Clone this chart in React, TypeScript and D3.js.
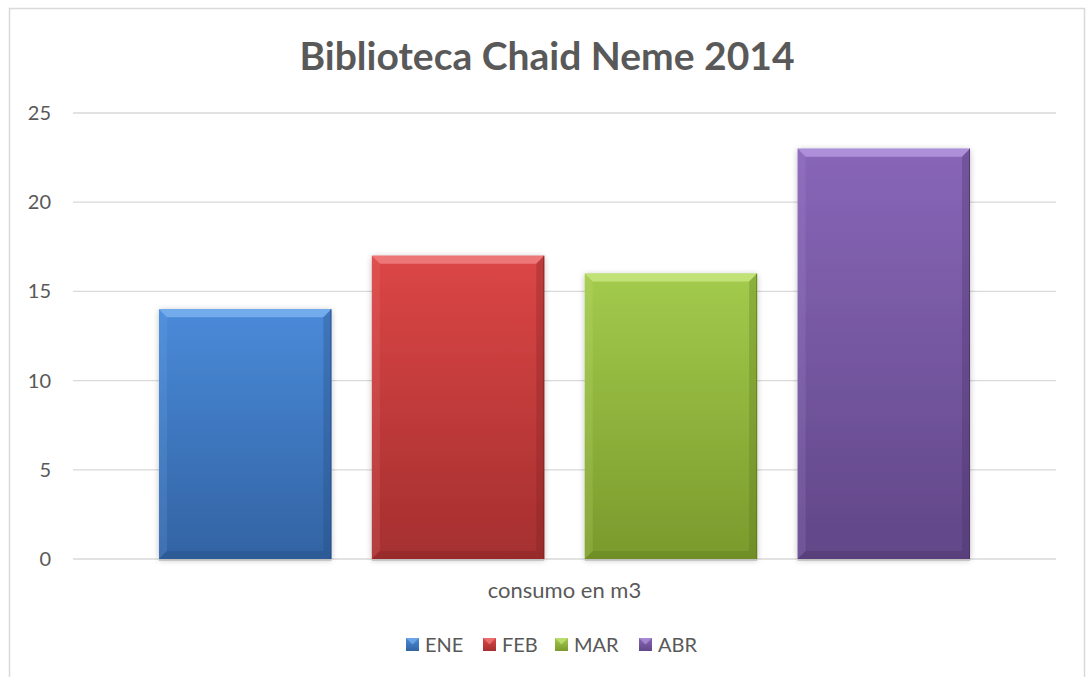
import * as d3 from 'd3';

const categories = ['consumo en m3'];
const seriesNames = ['ENE', 'FEB', 'MAR', 'ABR'];
const seriesValues = [14, 17, 16, 23];
const yTicks = [0, 5, 10, 15, 20, 25];

const palette = [
  { top: '#4a8ad9', bottom: '#3263a3', light: '#7ab2f0', dark: '#23497c' },
  { top: '#dc4646', bottom: '#a52f2f', light: '#f08080', dark: '#7a2020' },
  { top: '#a3cb4c', bottom: '#7a9a2c', light: '#c6e67e', dark: '#5a731c' },
  { top: '#8866b8', bottom: '#614788', light: '#b497df', dark: '#45305f' },
];

const W = 1087;
const H = 677;
const plot = { left: 73, right: 1056, top: 113, bottom: 559 };
const font = 'Lato, Carlito, "Open Sans", sans-serif';

const App = () => {
  const x0 = d3.scaleBand<string>()
    .domain(categories)
    .range([plot.left, plot.right])
    .paddingOuter(0.106)
    .paddingInner(0);

  const x1 = d3.scaleBand<string>()
    .domain(seriesNames)
    .range([0, x0.bandwidth()])
    .paddingInner(0.19);

  const y = d3.scaleLinear().domain([0, 25]).range([plot.bottom, plot.top]);

  const b = 8;
  const legendX = [406, 483, 555, 639];

  return (
    <div style={{ position: 'absolute', left: 0, top: 0 }}>
      <svg width={W} height={H} style={{ display: 'block' }}>
        <defs>
          {palette.map((c, i) => (
            <linearGradient key={i} id={`bar-grad-${i}`} x1="0" y1="0" x2="0" y2="1">
              <stop offset="0%" stopColor={c.top} />
              <stop offset="100%" stopColor={c.bottom} />
            </linearGradient>
          ))}
          <filter id="bar-shadow" x="-10%" y="-10%" width="120%" height="120%">
            <feGaussianBlur in="SourceAlpha" stdDeviation="3" />
            <feOffset dx="0" dy="1" result="blur" />
            <feComponentTransfer>
              <feFuncA type="linear" slope="0.25" />
            </feComponentTransfer>
            <feMerge>
              <feMergeNode />
              <feMergeNode in="SourceGraphic" />
            </feMerge>
          </filter>
        </defs>

        <rect x={0} y={0} width={W} height={H} fill="#ffffff" />
        {/* chart border */}
        <rect x={9.5} y={8.5} width={1075} height={700} fill="none" stroke="#d9d9d9" strokeWidth={1.5} />

        <text
          x={547}
          y={70}
          textAnchor="middle"
          fontFamily={font}
          fontWeight="bold"
          fontSize={39}
          fill="#595959"
        >
          Biblioteca Chaid Neme 2014
        </text>

        {/* gridlines + y labels */}
        {yTicks.map(t => (
          <g key={t}>
            <line
              x1={plot.left}
              x2={plot.right}
              y1={y(t)}
              y2={y(t)}
              stroke="#d9d9d9"
              strokeWidth={1.3}
            />
            <text
              x={51}
              y={y(t) + 7}
              textAnchor="end"
              fontFamily={font}
              fontSize={20}
              fill="#595959"
            >
              {t}
            </text>
          </g>
        ))}

        {/* bars */}
        {categories.map(cat => (
          <g key={cat} transform={`translate(${x0(cat)},0)`}>
            {seriesNames.map((s, i) => {
              const bx = x1(s) || 0;
              const bw = x1.bandwidth();
              const by = y(seriesValues[i]);
              const bh = y(0) - by;
              const c = palette[i];
              return (
                <g key={s}>
                  <rect x={bx} y={by} width={bw} height={bh} fill={`url(#bar-grad-${i})`} filter="url(#bar-shadow)" />
                  <polygon
                    points={`${bx},${by} ${bx + bw},${by} ${bx + bw - b},${by + b} ${bx + b},${by + b}`}
                    fill={c.light}
                    opacity={0.85}
                  />
                  <polygon
                    points={`${bx},${by} ${bx + b},${by + b} ${bx + b},${by + bh - b} ${bx},${by + bh}`}
                    fill={c.light}
                    opacity={0.18}
                  />
                  <polygon
                    points={`${bx + bw},${by} ${bx + bw - b},${by + b} ${bx + bw - b},${by + bh - b} ${bx + bw},${by + bh}`}
                    fill={c.dark}
                    opacity={0.3}
                  />
                  <polygon
                    points={`${bx},${by + bh} ${bx + b},${by + bh - b} ${bx + bw - b},${by + bh - b} ${bx + bw},${by + bh}`}
                    fill={c.dark}
                    opacity={0.3}
                  />
                  <line x1={bx + bw - 0.5} x2={bx + bw - 0.5} y1={by} y2={by + bh} stroke={c.dark} strokeWidth={1} opacity={0.7} />
                  <rect x={bx} y={y(0)} width={bw} height={2} fill="#bfbfbf" opacity={0.8} />
                </g>
              );
            })}
            <text
              x={x0.bandwidth() / 2}
              y={598}
              textAnchor="middle"
              fontFamily={font}
              fontSize={22}
              fill="#595959"
            >
              {cat}
            </text>
          </g>
        ))}

        {/* legend */}
        {seriesNames.map((s, i) => {
          const c = palette[i];
          const lx = legendX[i];
          return (
            <g key={s}>
              <rect x={lx} y={638} width={13} height={13} fill={`url(#bar-grad-${i})`} />
              <polygon
                points={`${lx},638 ${lx + 13},638 ${lx + 6.5},644.5`}
                fill={c.light}
                opacity={0.7}
              />
              <text x={lx + 19} y={652} fontFamily={font} fontSize={20} fill="#595959">
                {s}
              </text>
            </g>
          );
        })}
      </svg>
    </div>
  );
};

export default App;
